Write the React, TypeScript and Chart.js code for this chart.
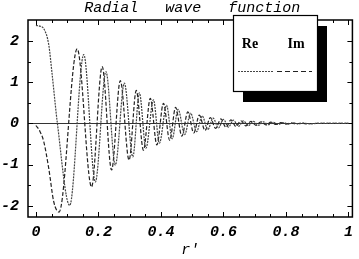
import React, { useEffect, useRef } from "react";
import { Chart, registerables } from "chart.js";

Chart.register(...registerables);

const titleText = "Radial   wave   function";
const xAxisLabel = "r'";
const seriesNames = ["Re", "Im"];

const xTickValues = [0, 0.2, 0.4, 0.6, 0.8, 1];
const xTickLabels = ["0", "0.2", "0.4", "0.6", "0.8", "1"];
const yTickValues = [-2, -1, 0, 1, 2];
const yTickLabels = ["-2", "-1", "0", "1", "2"];

const reX = [0, 0.012, 0.025, 0.041, 0.052, 0.062, 0.068, 0.108, 0.153, 0.19, 0.224, 0.254, 0.283, 0.31, 0.331, 0.352, 0.376, 0.395, 0.418, 0.436, 0.455, 0.476, 0.495, 0.514, 0.532, 0.55, 0.567, 0.584, 0.6, 0.616, 0.632, 0.648, 0.664, 0.68, 0.696, 0.712, 0.728, 0.744, 0.76, 0.776, 0.792, 0.808, 0.824, 0.84, 0.856, 0.872, 0.9, 1.0];
const reY = [2.38, 2.36, 2.3, 1.91, 1.18, 0.45, 0.04, -1.99, 1.67, -1.42, 1.26, -1.01, 0.98, -0.81, 0.74, -0.6, 0.57, -0.48, 0.44, -0.37, 0.34, -0.27, 0.25, -0.2, 0.18, -0.15, 0.13, -0.11, 0.1, -0.088, 0.08, -0.068, 0.062, -0.053, 0.048, -0.041, 0.037, -0.031, 0.028, -0.023, 0.02, -0.017, 0.014, -0.011, 0.009, -0.007, 0, 0];

const imX = [0, 0.012, 0.025, 0.041, 0.057, 0.074, 0.132, 0.178, 0.212, 0.242, 0.27, 0.298, 0.321, 0.344, 0.366, 0.387, 0.408, 0.428, 0.447, 0.467, 0.486, 0.505, 0.523, 0.541, 0.558, 0.575, 0.592, 0.608, 0.624, 0.64, 0.656, 0.672, 0.688, 0.704, 0.72, 0.736, 0.752, 0.768, 0.784, 0.8, 0.816, 0.832, 0.848, 0.864, 0.9, 1.0];
const imY = [-0.05, -0.18, -0.44, -1.09, -1.9, -2.15, 1.81, -1.54, 1.38, -1.13, 1.04, -0.89, 0.8, -0.65, 0.61, -0.52, 0.49, -0.41, 0.39, -0.31, 0.28, -0.23, 0.2, -0.17, 0.14, -0.12, 0.11, -0.095, 0.085, -0.075, 0.065, -0.058, 0.05, -0.045, 0.04, -0.035, 0.03, -0.026, 0.022, -0.019, 0.016, -0.013, 0.01, -0.008, 0, 0];

const MONO = '"Liberation Mono", "DejaVu Sans Mono", monospace';

const framePlugin = {
  id: "mmaFrame",
  beforeDatasetsDraw(chart: any) {
    const { ctx, chartArea, scales } = chart;
    const { left, right, top, bottom } = chartArea;
    const xs = scales.x;
    const ys = scales.y;
    ctx.save();
    const y0 = Math.round(ys.getPixelForValue(0)) + 0.5;
    ctx.strokeStyle = "#333";
    ctx.lineWidth = 1;
    ctx.beginPath();
    ctx.moveTo(left, y0);
    ctx.lineTo(right, y0);
    ctx.stroke();
    ctx.strokeStyle = "#000";
    ctx.lineWidth = 1;
    ctx.beginPath();
    for (let i = 0; i <= 20; i++) {
      const v = i * 0.05;
      const px = Math.round(xs.getPixelForValue(v)) + 0.5;
      const len = i % 4 === 0 ? 5 : 3;
      ctx.moveTo(px, bottom);
      ctx.lineTo(px, bottom - len);
      ctx.moveTo(px, top);
      ctx.lineTo(px, top + len);
    }
    for (let i = -4; i <= 4; i++) {
      const v = i * 0.5;
      const py = Math.round(ys.getPixelForValue(v)) + 0.5;
      const len = i % 2 === 0 ? 5 : 3;
      ctx.moveTo(left, py);
      ctx.lineTo(left + len, py);
      ctx.moveTo(right, py);
      ctx.lineTo(right - len, py);
    }
    ctx.stroke();
    ctx.lineWidth = 1.5;
    ctx.strokeRect(left, top, right - left, bottom - top);
    ctx.restore();
  },
  afterDraw(chart: any) {
    const { ctx, chartArea } = chart;
    ctx.save();
    ctx.fillStyle = "#000";
    ctx.font = "italic 15px " + MONO;
    ctx.textAlign = "center";
    ctx.textBaseline = "middle";
    ctx.fillText(titleText, (chartArea.left + chartArea.right) / 2 + 2, 8);
    const bx = 233, by = 15, bw = 84, bh = 76;
    ctx.fillStyle = "#000";
    ctx.fillRect(bx + 10, by + 11, bw, bh);
    ctx.fillStyle = "#fff";
    ctx.fillRect(bx, by, bw, bh);
    ctx.strokeStyle = "#000";
    ctx.lineWidth = 1.2;
    ctx.strokeRect(bx + 0.5, by + 0.5, bw, bh);
    ctx.fillStyle = "#000";
    ctx.font = 'bold 14px "Liberation Serif", serif';
    ctx.textAlign = "center";
    ctx.textBaseline = "middle";
    ctx.fillText(seriesNames[0], bx + 17, by + 29);
    ctx.fillText(seriesNames[1], bx + 63, by + 29);
    const ds = chart.data.datasets;
    const ly = by + 56.5;
    const segs = [[bx + 5, bx + 40], [bx + 44, bx + 79]];
    ds.forEach((d: any, i: number) => {
      ctx.strokeStyle = d.borderColor;
      ctx.lineWidth = 1.2;
      ctx.setLineDash(i === 0 ? [2, 1] : [5, 3]);
      ctx.beginPath();
      ctx.moveTo(segs[i][0], ly);
      ctx.lineTo(segs[i][1], ly);
      ctx.stroke();
    });
    ctx.setLineDash([]);
    ctx.restore();
  },
};

export default function App() {
  const ref = useRef<HTMLCanvasElement>(null);
  useEffect(() => {
    if (!ref.current) return;
    const tickFont = { family: MONO, size: 15, style: "italic" as const, weight: "bold" as const };
    const chart = new Chart(ref.current, {
      type: "line",
      data: {
        datasets: [
          {
            label: seriesNames[0],
            data: reX.map((x, i) => ({ x, y: reY[i] })),
            borderColor: "#444",
            borderWidth: 1.2,
            borderDash: [2, 1],
            pointRadius: 0,
            cubicInterpolationMode: "monotone",
            fill: false,
          },
          {
            label: seriesNames[1],
            data: imX.map((x, i) => ({ x, y: imY[i] })),
            borderColor: "#222",
            borderWidth: 1.2,
            borderDash: [4, 2],
            pointRadius: 0,
            cubicInterpolationMode: "monotone",
            fill: false,
          },
        ],
      },
      options: {
        responsive: false,
        animation: false,
        devicePixelRatio: 1,
        layout: { padding: { top: 20, right: 4, left: 0, bottom: 0 } },
        plugins: {
          legend: { display: false },
          title: { display: false },
          tooltip: { enabled: false },
        },
        scales: {
          x: {
            type: "linear",
            min: -0.0254,
            max: 1.0127,
            grid: { display: false, drawTicks: false },
            border: { display: false },
            afterBuildTicks: (s: any) => {
              s.ticks = xTickValues.map((v) => ({ value: v }));
            },
            afterFit: (s: any) => {
              s.height = 42;
            },
            ticks: {
              autoSkip: false,
              maxRotation: 0,
              padding: 6,
              color: "#000",
              font: tickFont,
              callback: (v: any) => {
                const i = xTickValues.findIndex((t) => Math.abs(t - v) < 1e-6);
                return i >= 0 ? xTickLabels[i] : "";
              },
            },
            title: {
              display: true,
              text: xAxisLabel,
              color: "#000",
              font: { family: MONO, size: 15, style: "italic" as const },
              padding: { top: 0, bottom: 0 },
            },
          },
          y: {
            type: "linear",
            min: -2.27,
            max: 2.51,
            grid: { display: false, drawTicks: false },
            border: { display: false },
            afterBuildTicks: (s: any) => {
              s.ticks = yTickValues.map((v) => ({ value: v }));
            },
            afterFit: (s: any) => {
              s.width = 28;
            },
            ticks: {
              autoSkip: false,
              padding: 9,
              color: "#000",
              font: tickFont,
              callback: (v: any) => {
                const i = yTickValues.findIndex((t) => Math.abs(t - v) < 1e-6);
                return i >= 0 ? yTickLabels[i] : "";
              },
            },
          },
        },
      },
      plugins: [framePlugin],
    });
    return () => chart.destroy();
  }, []);
  return (
    <div style={{ position: "fixed", left: 0, top: 0, width: 359, height: 259, background: "#fff" }}>
      <canvas ref={ref} width={359} height={259} style={{ display: "block" }} />
    </div>
  );
}
